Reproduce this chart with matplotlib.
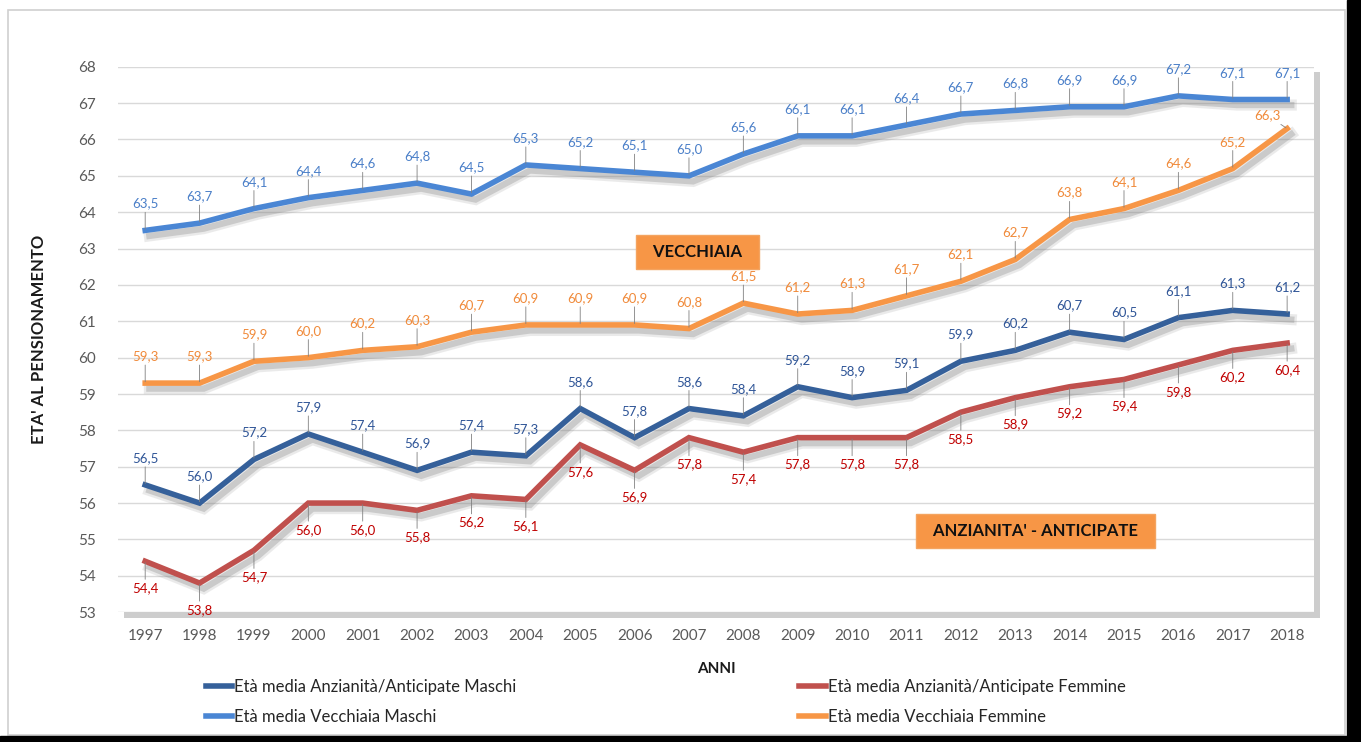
import matplotlib.pyplot as plt
import matplotlib.patheffects as pe
from matplotlib.patches import Rectangle
from matplotlib.lines import Line2D

anni = list(range(1997, 2019))

vecchiaia_maschi = [63.5, 63.7, 64.1, 64.4, 64.6, 64.8, 64.5, 65.3, 65.2, 65.1, 65.0,
                    65.6, 66.1, 66.1, 66.4, 66.7, 66.8, 66.9, 66.9, 67.2, 67.1, 67.1]
vecchiaia_femmine = [59.3, 59.3, 59.9, 60.0, 60.2, 60.3, 60.7, 60.9, 60.9, 60.9, 60.8,
                     61.5, 61.2, 61.3, 61.7, 62.1, 62.7, 63.8, 64.1, 64.6, 65.2, 66.3]
anzianita_maschi = [56.5, 56.0, 57.2, 57.9, 57.4, 56.9, 57.4, 57.3, 58.6, 57.8, 58.6,
                    58.4, 59.2, 58.9, 59.1, 59.9, 60.2, 60.7, 60.5, 61.1, 61.3, 61.2]
anzianita_femmine = [54.4, 53.8, 54.7, 56.0, 56.0, 55.8, 56.2, 56.1, 57.6, 56.9, 57.8,
                     57.4, 57.8, 57.8, 57.8, 58.5, 58.9, 59.2, 59.4, 59.8, 60.2, 60.4]

plt.rcParams['font.family'] = ['Lato', 'DejaVu Sans']

fig = plt.figure(figsize=(13.61, 7.42), dpi=100)
fig.patch.set_facecolor('white')

# cornice esterna (screenshot)
fig.patches.append(Rectangle((8 / 1361, 1 - 735 / 742), 1337 / 1361, 725 / 742,
                             transform=fig.transFigure, fill=False,
                             edgecolor='#d0d0d0', lw=1.2))
fig.patches.append(Rectangle((1347 / 1361, 0), 14 / 1361, 1, transform=fig.transFigure,
                             color='black'))
fig.patches.append(Rectangle((0, 0), 1, 6 / 742, transform=fig.transFigure,
                             color='black'))

ax = fig.add_axes([0.0867, 0.175, 0.879, 0.735])
ax.patch.set_path_effects([pe.SimplePatchShadow(offset=(4, -4), shadow_rgbFace='#909090',
                                                alpha=0.45), pe.Normal()])

x = list(range(len(anni)))

series = [
    ('Età media Anzianità/Anticipate Maschi', anzianita_maschi, '#35609A', '#2F5597', 1),
    ('Età media Vecchiaia Maschi', vecchiaia_maschi, '#4A86D4', '#4A7FC8', 1),
    ('Età media Anzianità/Anticipate Femmine', anzianita_femmine, '#C0504D', '#C00000', -1),
    ('Età media Vecchiaia Femmine', vecchiaia_femmine, '#F79646', '#F08A3A', 1),
]

# etichette spostate a mano (serie, indice) -> offset in punti
spostate = {('Età media Vecchiaia Femmine', 21): (-14, 5)}

shadow = [pe.SimpleLineShadow(offset=(3, -4), shadow_color='#909090', alpha=0.18,
                              linewidth=8),
          pe.SimpleLineShadow(offset=(3, -4), shadow_color='#808080', alpha=0.3,
                              linewidth=4.5),
          pe.Normal()]

handles = []
for name, vals, col, tcol, side in series:
    ax.plot(x, vals, color=col, lw=4, solid_joinstyle='miter', path_effects=shadow,
            zorder=3)
    handles.append(Line2D([], [], color=col, lw=4, label=name))
    for xi, v in zip(x, vals):
        off = spostate.get((name, xi), (0, 15 * side))
        ax.annotate(f'{v:.1f}'.replace('.', ','), xy=(xi, v),
                    xytext=off, textcoords='offset points',
                    ha='center', va='bottom' if side > 0 else 'top',
                    fontsize=9.5, color=tcol, zorder=4,
                    arrowprops=dict(arrowstyle='-', color='#808080', lw=0.6,
                                    shrinkA=0, shrinkB=1))

ax.set_xlim(-0.5, len(anni) - 0.5)
ax.set_ylim(53, 68)
ax.set_yticks(range(53, 69))
ax.set_xticks(x)
ax.set_xticklabels([str(a) for a in anni])
ax.tick_params(axis='both', length=0, labelsize=11, labelcolor='#595959')
ax.tick_params(axis='x', pad=12)
ax.tick_params(axis='y', pad=16)
ax.grid(axis='y', color='#d9d9d9', lw=1)
ax.set_axisbelow(True)
for s in ax.spines.values():
    s.set_visible(False)

ax.set_ylabel("ETA' AL PENSIONAMENTO", fontsize=12, fontweight='bold', color='#1a1a1a',
              labelpad=22)
ax.set_xlabel('ANNI', fontsize=11, fontweight='bold', color='#1a1a1a', labelpad=14)

box = dict(boxstyle='square,pad=0.55', facecolor='#F79646', edgecolor='#F4A460')
ax.text(0.4846, 0.66, '  VECCHIAIA  ', transform=ax.transAxes, ha='center', va='center',
        fontsize=12, fontweight='bold', color='#111111', bbox=box, zorder=5)
ax.text(0.767, 0.149, "  ANZIANITA' - ANTICIPATE  ", transform=ax.transAxes, ha='center',
        va='center', fontsize=12, fontweight='bold', color='#111111', bbox=box, zorder=5)

fig.legend(handles=handles, loc='lower left', bbox_to_anchor=(0.14, 0.003), ncol=2,
           frameon=False, fontsize=12, handlelength=1.6, handletextpad=0.1,
           columnspacing=17, labelspacing=0.85, labelcolor='#262626')

fig.savefig('out.png', dpi=100)
